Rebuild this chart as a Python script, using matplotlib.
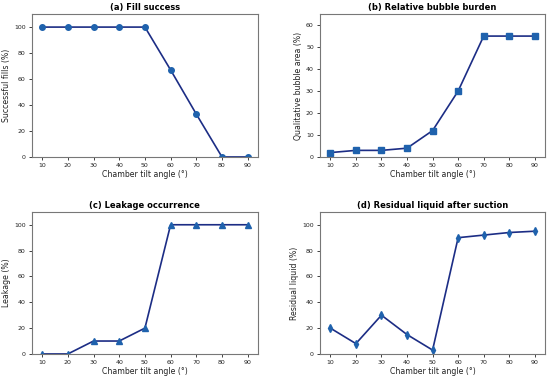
import matplotlib.pyplot as plt

angles = [10, 20, 30, 40, 50, 60, 70, 80, 90]
fill_success = [100, 100, 100, 100, 100, 67, 33, 0, 0]
bubble_area = [2, 3, 3, 4, 12, 30, 55, 55, 55]
leakage = [0, 0, 10, 10, 20, 100, 100, 100, 100]
residual = [20, 8, 30, 15, 3, 90, 92, 94, 95]

titles = ['(a) Fill success', '(b) Relative bubble burden',
          '(c) Leakage occurrence', '(d) Residual liquid after suction']
ylabels = ['Successful fills (%)', 'Qualitative bubble area (%)',
           'Leakage (%)', 'Residual liquid (%)']
series = [fill_success, bubble_area, leakage, residual]
markers = ['o', 's', '^', 'd']
ylims = [110, 65, 110, 110]

line_col = '#1c2d85'
mark_col = '#1f62ad'

fig = plt.figure(figsize=(5.5, 3.81), dpi=100)
# axes rectangles (left, bottom, width, height) in figure fractions
rects = [(0.058, 0.588, 0.411, 0.375), (0.582, 0.588, 0.409, 0.375),
         (0.058, 0.071, 0.411, 0.373), (0.582, 0.071, 0.409, 0.373)]

for r, y, t, yl, m, top in zip(rects, series, titles, ylabels, markers, ylims):
    ax = fig.add_axes(r)
    ax.plot(angles, y, color=line_col, lw=1.2, marker=m, ms=4,
            mfc=mark_col, mec=mark_col)
    ax.set_title(t, fontsize=6, fontweight='bold', pad=3)
    ax.set_xlabel('Chamber tilt angle (°)', fontsize=5.6, labelpad=1.5, color='#222222')
    ax.set_ylabel(yl, fontsize=5.6, labelpad=2.5, color='#222222')
    ax.set_xticks(angles)
    ax.set_ylim(0, top)
    ax.tick_params(labelsize=4.5, length=2.5, width=0.6, pad=2, colors='#222222')
    for s in ax.spines.values():
        s.set_color('#777777')
        s.set_linewidth(0.8)

fig.savefig('out.png')
